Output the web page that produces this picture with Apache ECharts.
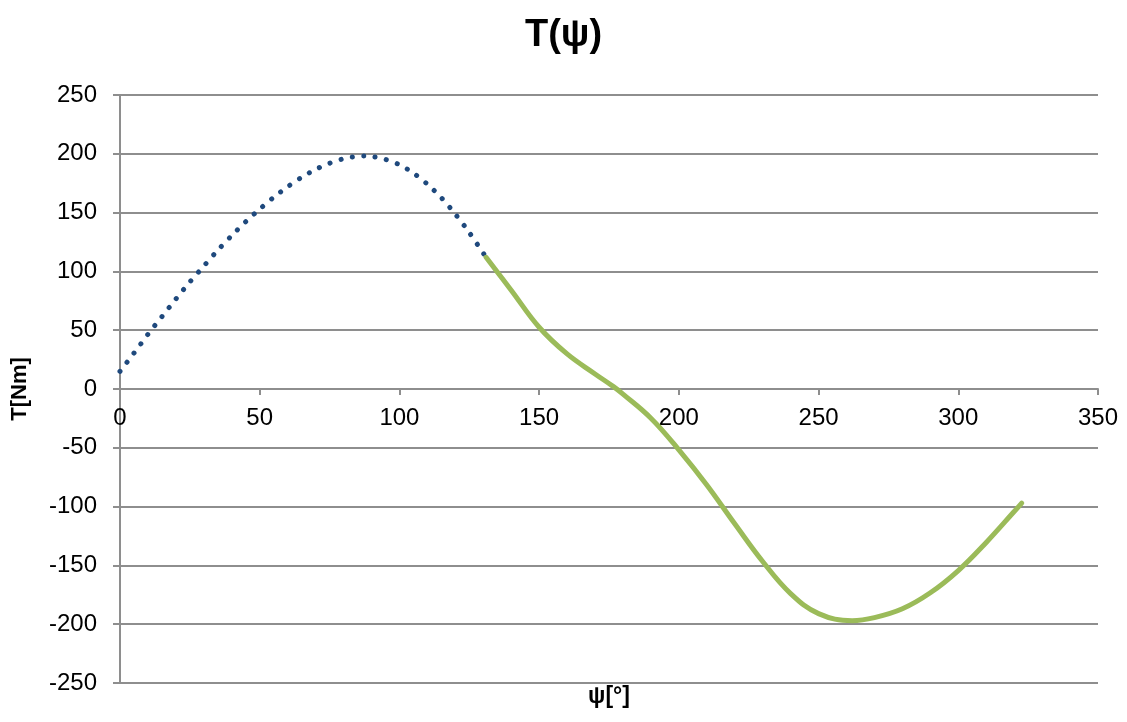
<!DOCTYPE html>
<html>
<head>
<meta charset="utf-8">
<script src="https://cdn.jsdelivr.net/npm/echarts@6/dist/echarts.min.js"></script>
<style>
  html, body { margin: 0; padding: 0; background: #fff; }
  #chart { width: 1127px; height: 722px; }
</style>
</head>
<body>
<div id="chart"></div>
<script>
// blue dotted part: psi [deg], T [Nm]
const psiA = [0, 5, 10, 15, 20, 25, 30, 35, 40, 45, 50, 55, 60, 65, 70, 75, 80, 85, 88, 90, 95, 100, 105, 110, 115, 120, 125, 131];
const tA = [15, 30.5, 46.5, 61.5, 76.5, 91, 104.5, 118, 130.5, 142.3, 153, 163, 172, 180, 186.7, 192, 195.8, 197.8, 198.1, 197.8, 195.2, 190.7, 183.6, 174.2, 162.6, 148.7, 133, 112];

// green solid part
const psiB = [131, 140, 150, 160, 170, 176.6, 180, 190, 200, 210, 220, 230, 240, 250, 262, 270, 280, 290, 300, 310, 320, 322.7];
const tB = [112, 84, 52.5, 29.8, 12.8, 2, -4.3, -24.8, -51.7, -81.6, -114.6, -146.7, -174, -191, -197, -194.4, -186.9, -173.3, -154.4, -130.5, -104.2, -97];

const yTicks = [-250, -200, -150, -100, -50, 0, 50, 100, 150, 200, 250];

const zip = (xs, ys) => xs.map((x, i) => [x, ys[i]]);

const font = 'Liberation Sans, Arial, sans-serif';
const gridColor = '#8e8e8e';

const chart = echarts.init(document.getElementById('chart'));
chart.setOption({
  animation: false,
  title: {
    text: 'T(ψ)',
    left: 'center',
    top: 12,
    textStyle: { fontFamily: font, fontSize: 38, fontWeight: 'bold', color: '#000' }
  },
  grid: { left: 120, right: 29, top: 95, bottom: 39, containLabel: false, outerBoundsMode: 'none' },
  xAxis: {
    type: 'value',
    position: 'bottom',
    offset: -294, // axis crosses at T = 0
    min: 0, max: 350, interval: 50,
    name: 'ψ[°]',
    nameLocation: 'middle',
    nameGap: 296,
    nameTextStyle: { fontFamily: font, fontSize: 23, fontWeight: 'bold', color: '#000' },
    axisLine: { onZero: false, lineStyle: { color: gridColor, width: 2 } },
    axisTick: { show: true, length: 6, lineStyle: { color: gridColor, width: 2 } },
    axisLabel: { fontFamily: font, fontSize: 24, color: '#000', margin: 17 },
    splitLine: { show: false }
  },
  yAxis: {
    type: 'value',
    min: -250, max: 250, interval: 50,
    name: 'T[Nm]',
    nameLocation: 'middle',
    nameGap: 89,
    nameTextStyle: { fontFamily: font, fontSize: 22, fontWeight: 'bold', color: '#000' },
    axisLine: { show: true, onZero: false, lineStyle: { color: gridColor, width: 2 } },
    axisTick: { show: true, length: 7, lineStyle: { color: gridColor, width: 2 } },
    axisLabel: {
      fontFamily: font, fontSize: 24, color: '#000', margin: 23,
      formatter: v => yTicks.includes(v) ? String(v) : ''
    },
    splitLine: { show: true, lineStyle: { color: gridColor, width: 2 } }
  },
  series: [
    {
      type: 'line',
      data: zip(psiA, tA),
      smooth: 0.3,
      showSymbol: false,
      lineStyle: { color: '#1f497d', width: 5, type: [0.1, 11.4], cap: 'round' }
    },
    {
      type: 'line',
      data: zip(psiB, tB),
      smooth: 0.4,
      showSymbol: false,
      lineStyle: { color: '#9bbb59', width: 5, cap: 'round' }
    }
  ]
});
</script>
</body>
</html>
